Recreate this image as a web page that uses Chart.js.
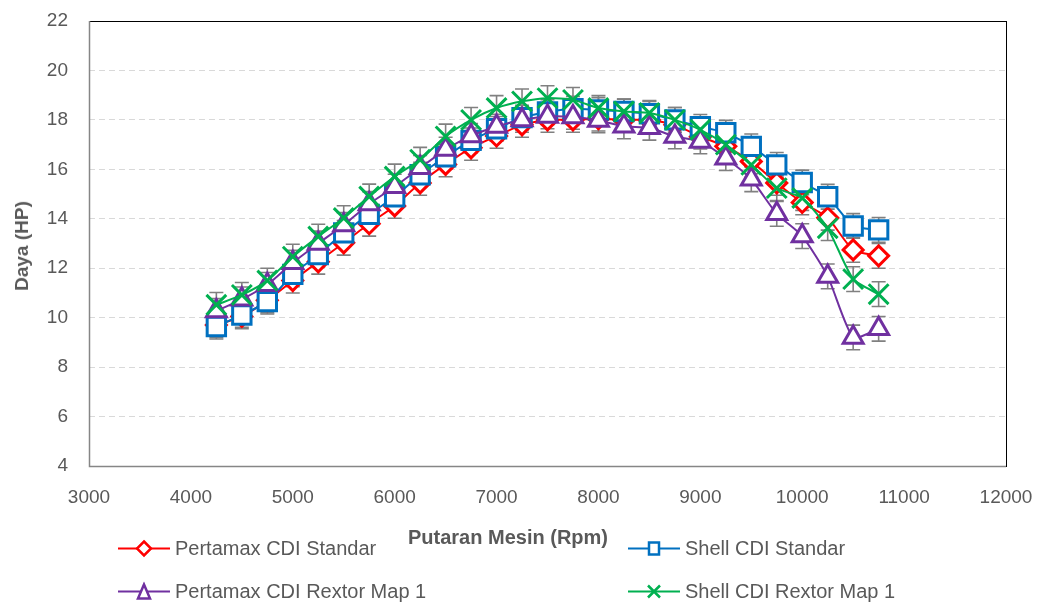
<!DOCTYPE html>
<html>
<head>
<meta charset="utf-8">
<script src="https://cdn.jsdelivr.net/npm/chart.js@4.4.0/dist/chart.umd.min.js"></script>
<style>
  body { margin: 0; background: #fff; }
  #wrap { position: relative; width: 1043px; height: 602px; font-family: "Liberation Sans", Arial, sans-serif; color: #595959; }
  canvas { position: absolute; left: 0; top: 0; }
  .ytitle { position: absolute; left: 22px; top: 246px; transform: translate(-50%, -50%) rotate(-90deg); font-weight: bold; font-size: 19px; white-space: nowrap; }
  .xtitle { position: absolute; left: 508px; top: 537px; transform: translate(-50%, -50%); font-weight: bold; font-size: 20px; white-space: nowrap; }
  .leg { position: absolute; display: flex; align-items: center; font-size: 20px; white-space: nowrap; transform: translateY(-50%); }
  .leg svg { margin-right: 5px; }
</style>
</head>
<body>
<div id="wrap">
  <canvas id="chart" width="1043" height="602"></canvas>
  <div class="ytitle">Daya (HP)</div>
  <div class="xtitle">Putaran Mesin (Rpm)</div>
  <div id="legend"></div>
</div>
<script>
// rpm on the x axis
const rpm = [4250, 4500, 4750, 5000, 5250, 5500, 5750, 6000, 6250, 6500, 6750, 7000, 7250, 7500,
             7750, 8000, 8250, 8500, 8750, 9000, 9250, 9500, 9750, 10000, 10250, 10500, 10750];

// power (HP) per series
const pertamaxStandar = [9.7, 10.05, 10.7, 11.5, 12.26, 13.03, 13.8, 14.52, 15.45, 16.2, 16.87, 17.35, 17.8, 18.0,
                         18.0, 18.05, 18.0, 18.0, 17.8, 17.32, 16.93, 16.32, 15.45, 14.66, 14.04, 12.74, 12.5];
const shellStandar = [9.64, 10.11, 10.65, 11.75, 12.55, 13.43, 14.18, 14.89, 15.78, 16.51, 17.17, 17.64, 18.09, 18.32,
                      18.45, 18.4, 18.34, 18.25, 18.0, 17.72, 17.48, 16.93, 16.18, 15.47, 14.89, 13.71, 13.55];
const pertamaxRextor = [10.27, 10.74, 11.33, 12.22, 13.0, 13.75, 14.6, 15.3, 16.06, 16.8, 17.35, 17.73, 18.0, 18.14,
                        18.12, 17.98, 17.74, 17.68, 17.33, 17.13, 16.45, 15.6, 14.2, 13.3, 11.67, 9.2, 9.55];
const shellRextor = [10.52, 10.92, 11.5, 12.47, 13.28, 14.03, 14.9, 15.71, 16.39, 17.33, 18.0, 18.48, 18.75, 18.88,
                     18.81, 18.48, 18.34, 18.28, 18.0, 17.6, 17.0, 16.18, 15.24, 14.84, 13.62, 11.56, 10.95];

// half-length of the error bars (HP)
const ERR_HP = 0.5;

const seriesNames = ['Pertamax CDI Standar', 'Shell CDI Standar', 'Pertamax CDI Rextor Map 1', 'Shell CDI Rextor Map 1'];

const toXY = vals => rpm.map((r, i) => ({ x: r, y: vals[i] }));

const errorBars = {
  id: 'errorBars',
  beforeDatasetsDraw(chart) {
    const { ctx, scales: { x, y } } = chart;
    ctx.save();
    ctx.strokeStyle = '#808080';
    ctx.lineWidth = 1.6;
    chart.data.datasets.forEach(ds => {
      ds.data.forEach(p => {
        const px = x.getPixelForValue(p.x);
        const hi = y.getPixelForValue(p.y + ERR_HP);
        const lo = y.getPixelForValue(p.y - ERR_HP);
        ctx.beginPath();
        ctx.moveTo(px, hi); ctx.lineTo(px, lo);
        ctx.moveTo(px - 7, hi); ctx.lineTo(px + 7, hi);
        ctx.moveTo(px - 7, lo); ctx.lineTo(px + 7, lo);
        ctx.stroke();
      });
    });
    ctx.restore();
  }
};

const frame = {
  id: 'frame',
  beforeDatasetsDraw(chart) {
    const { ctx, chartArea: a } = chart;
    ctx.save();
    ctx.strokeStyle = '#000';
    ctx.lineWidth = 1;
    ctx.strokeRect(a.left + 0.5, a.top + 0.5, a.right - a.left, a.bottom - a.top);
    ctx.strokeStyle = '#868686';
    ctx.lineWidth = 1.5;
    ctx.beginPath();
    ctx.moveTo(a.left + 0.5, a.top); ctx.lineTo(a.left + 0.5, a.bottom + 0.5);
    ctx.lineTo(a.right, a.bottom + 0.5);
    ctx.stroke();
    ctx.restore();
  }
};

const base = { borderWidth: 2, pointBorderWidth: 3, pointBackgroundColor: '#fff', tension: 0.2, fill: false };
const tickFont = { family: 'Liberation Sans', size: 19 };

new Chart(document.getElementById('chart'), {
  type: 'line',
  data: {
    datasets: [
      { ...base, label: seriesNames[0], data: toXY(pertamaxStandar), borderColor: '#FF0000', pointBorderColor: '#FF0000',
        pointStyle: 'rectRot', pointRadius: 10, order: 3 },
      { ...base, label: seriesNames[1], data: toXY(shellStandar), borderColor: '#0070C0', pointBorderColor: '#0070C0',
        pointStyle: 'rect', pointRadius: 13, order: 2 },
      { ...base, label: seriesNames[2], data: toXY(pertamaxRextor), borderColor: '#7030A0', pointBorderColor: '#7030A0',
        pointStyle: 'triangle', pointRadius: 11.5, order: 1 },
      { ...base, label: seriesNames[3], data: toXY(shellRextor), borderColor: '#00B050', pointBorderColor: '#00B050',
        pointStyle: 'crossRot', pointRadius: 14, order: 0 }
    ]
  },
  options: {
    responsive: false,
    animation: false,
    layout: { padding: { top: 21, right: 37, left: 0, bottom: 0 } },
    plugins: { legend: { display: false }, tooltip: { enabled: false } },
    scales: {
      x: {
        type: 'linear', min: 3000, max: 12000,
        afterFit: s => { s.height = 136; s.paddingLeft = 0; s.paddingRight = 0; },
        grid: { display: false, drawTicks: false },
        border: { display: false },
        ticks: { stepSize: 1000, padding: 20, color: '#595959', font: tickFont, callback: v => String(v) }
      },
      y: {
        min: 4, max: 22,
        afterFit: s => { s.width = 89; s.paddingTop = 0; s.paddingBottom = 0; },
        grid: {
          drawTicks: false,
          color: c => (c.tick.value === 4 || c.tick.value === 22) ? 'rgba(0,0,0,0)' : '#D9D9D9'
        },
        border: { display: false, dash: [6, 4] },
        ticks: { stepSize: 2, padding: 21, color: '#595959', font: tickFont, callback: v => String(v) }
      }
    }
  },
  plugins: [errorBars, frame]
});

// legend
const legendItems = [
  { name: seriesNames[0], color: '#FF0000', mark: 'diamond', left: 118, top: 548 },
  { name: seriesNames[1], color: '#0070C0', mark: 'square', left: 628, top: 548 },
  { name: seriesNames[2], color: '#7030A0', mark: 'triangle', left: 118, top: 591 },
  { name: seriesNames[3], color: '#00B050', mark: 'cross', left: 628, top: 591 }
];
const marks = {
  diamond: c => `<polygon points="26,3 33,10 26,17 19,10" fill="#fff" stroke="${c}" stroke-width="2.5"/>`,
  square: c => `<rect x="21" y="4" width="10" height="12" fill="#fff" stroke="${c}" stroke-width="2.5"/>`,
  triangle: c => `<polygon points="26,3 32,17 20,17" fill="#fff" stroke="${c}" stroke-width="2.5"/>`,
  cross: c => `<path d="M20,4 L32,16 M32,4 L20,16" stroke="${c}" stroke-width="2.5"/>`
};
document.getElementById('legend').innerHTML = legendItems.map(it => `
  <div class="leg" style="left:${it.left}px;top:${it.top}px">
    <svg width="52" height="20"><line x1="0" y1="10" x2="52" y2="10" stroke="${it.color}" stroke-width="2"/>${marks[it.mark](it.color)}</svg>
    <span>${it.name}</span>
  </div>`).join('');
</script>
</body>
</html>
